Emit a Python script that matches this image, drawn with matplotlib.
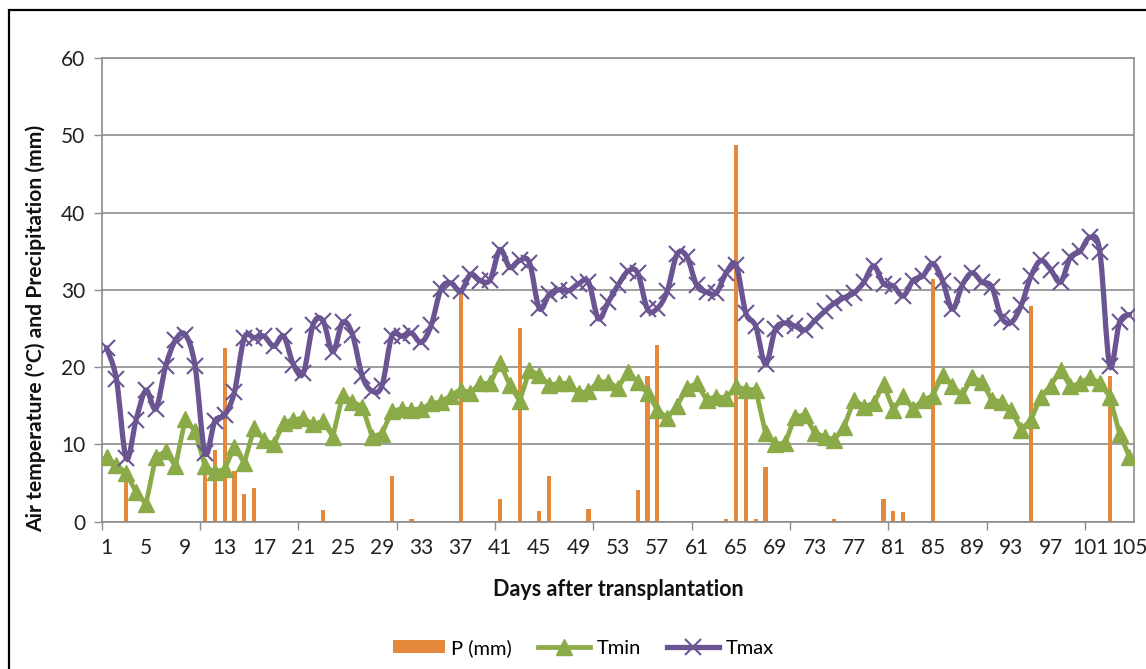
import numpy as np
import matplotlib
matplotlib.use('Agg')
import matplotlib.pyplot as plt
from matplotlib.path import Path
from matplotlib.patches import PathPatch, Patch, Rectangle
from matplotlib.lines import Line2D

# daily weather after transplanting (day 1..105)
days = np.arange(1, 106)

tmax = [22.5, 18.4, 8.2, 13.2, 17.0, 14.6, 20.1, 23.5, 24.2, 20.1,
        8.9, 13.0, 13.8, 16.8, 23.8, 23.8, 24.0, 22.7, 24.0, 20.3,
        19.2, 25.5, 26.0, 22.0, 25.8, 24.2, 18.8, 16.9, 17.6, 24.0,
        24.0, 24.4, 23.2, 25.4, 30.1, 30.9, 29.8, 32.0, 31.2, 31.3,
        35.2, 32.9, 33.8, 33.5, 27.6, 29.4, 30.0, 29.9, 30.8, 31.0,
        26.3, 28.4, 30.6, 32.4, 32.2, 27.5, 27.6, 29.8, 34.6, 34.3,
        30.6, 29.7, 29.6, 32.2, 33.2, 27.0, 25.3, 20.4, 24.9, 25.7,
        25.3, 24.8, 26.0, 27.2, 28.3, 29.0, 29.6, 31.0, 33.1, 30.8,
        30.5, 29.2, 31.2, 31.8, 33.4, 31.2, 27.5, 30.6, 32.2, 31.0,
        30.4, 26.4, 25.8, 28.0, 31.8, 33.8, 32.6, 31.0, 34.2, 35.0,
        36.8, 34.9, 20.2, 25.8, 26.8]

tmin = [8.4, 7.3, 6.3, 3.8, 2.3, 8.4, 9.1, 7.2, 13.3, 11.7,
        7.2, 6.4, 6.8, 9.7, 7.6, 12.1, 10.6, 10.0, 12.8, 13.2,
        13.4, 12.6, 13.0, 11.0, 16.4, 15.5, 14.9, 11.0, 11.4, 14.3,
        14.6, 14.5, 14.6, 15.3, 15.5, 16.3, 17.1, 16.7, 17.9, 17.9,
        20.5, 17.7, 15.6, 19.6, 19.0, 17.7, 17.9, 17.9, 16.6, 16.9,
        18.1, 18.1, 17.3, 19.4, 18.1, 16.6, 14.5, 13.4, 15.0, 17.3,
        17.9, 15.8, 16.2, 16.0, 17.5, 17.1, 17.1, 11.5, 10.0, 10.2,
        13.6, 13.8, 11.5, 11.0, 10.6, 12.3, 15.8, 14.9, 15.3, 17.8,
        14.5, 16.3, 14.6, 15.7, 16.3, 19.0, 17.5, 16.4, 18.7, 18.1,
        15.8, 15.5, 14.4, 11.9, 13.2, 16.2, 17.6, 19.6, 17.5, 17.9,
        18.7, 17.9, 16.2, 11.4, 8.4]

precip = [0, 0.1, 6.5, 0, 0, 0, 0, 0, 0, 0,
          7.0, 9.3, 22.5, 6.5, 3.6, 4.3, 0, 0, 0, 0,
          0, 0, 1.5, 0, 0, 0, 0, 0, 0, 5.9,
          0, 0.4, 0, 0, 0, 0, 29.6, 0, 0, 0,
          3.0, 0.1, 25.1, 0, 1.4, 5.9, 0, 0, 0, 1.7,
          0, 0, 0, 0, 4.1, 18.9, 22.9, 0, 0, 0,
          0, 0, 0, 0.3, 48.7, 16.3, 0.3, 7.1, 0.1, 0,
          0, 0, 0, 0, 0.3, 0.1, 0, 0, 0, 2.9,
          1.4, 1.3, 0, 0, 31.4, 0, 0, 0, 0, 0,
          0, 0, 0, 0, 27.9, 0, 0, 0, 0, 0,
          0, 0, 18.9, 0, 0]

orange = '#E4893C'
green = '#8BAA48'
purple = '#6A5592'
grey = '#8C8C8C'

plt.rcParams['font.family'] = ['Lato', 'DejaVu Sans']


def smooth_path(x, y):
    # cubic bezier through the points, like Excel's "smoothed line"
    pts = np.column_stack([x, y]).astype(float)
    n = len(pts)
    verts = [pts[0]]
    codes = [Path.MOVETO]
    for i in range(n - 1):
        p0 = pts[i - 1] if i > 0 else pts[i]
        p1 = pts[i]
        p2 = pts[i + 1]
        p3 = pts[i + 2] if i + 2 < n else pts[i + 1]
        verts += [p1 + (p2 - p0) / 6, p2 - (p3 - p1) / 6, p2]
        codes += [Path.CURVE4] * 3
    return Path(verts, codes)


fig = plt.figure(figsize=(11.46, 6.69), dpi=100)
ax = fig.add_axes([101.7 / 1146, 1 - 521.7 / 669, (1134.3 - 101.7) / 1146, (521.7 - 58) / 669])

ax.bar(days, precip, width=0.42, color=orange, zorder=2)
ax.plot(days, tmin, color=green, lw=3.4, marker='^', ms=12, zorder=3)
ax.add_patch(PathPatch(smooth_path(days, tmax), facecolor='none',
                       edgecolor=purple, lw=3.8, zorder=4, capstyle='round'))
ax.plot(days, tmax, ls='none', marker='x', ms=11.5, mew=1.5, color=purple, zorder=5)

ax.set_xlim(0.5, 105.5)
ax.set_ylim(0, 60)
ax.set_yticks(range(0, 61, 10))
ax.yaxis.grid(True, color=grey, lw=1.2, zorder=0)
ax.set_axisbelow(True)

# tick marks every 10 days, labels every 4 days
ax.set_xticks(np.arange(0.5, 105, 10))
ax.set_xticklabels([])
ax.set_xticks(days[::4], minor=True)
ax.set_xticklabels([str(d) for d in days[::4]], minor=True)
ax.tick_params(axis='x', which='major', length=6, width=1, color=grey)
ax.tick_params(axis='x', which='minor', length=0, pad=12, labelsize=15, labelcolor='#222222')
ax.tick_params(axis='y', length=6, width=1, color=grey, pad=6, labelsize=15, labelcolor='#222222')

for s in ax.spines.values():
    s.set_color(grey)
    s.set_linewidth(1.2)

fig.text(618 / 1146, 1 - 590 / 669, 'Days after transplantation', ha='center', va='center',
         fontsize=15.5, fontweight='bold', color='#111111')
fig.text(36 / 1146, 1 - 328 / 669, 'Air temperature (ºC) and Precipitation (mm)', ha='center',
         va='center', rotation=90, fontsize=15.2, fontweight='bold', color='#111111')

handles = [Patch(facecolor=orange, edgecolor='none'),
           Line2D([], [], color=green, lw=3.4, marker='^', ms=12),
           Line2D([], [], color=purple, lw=3.8, marker='x', ms=11.5, mew=1.5)]
fig.legend(handles, ['P (mm)', 'Tmin', 'Tmax'], loc='center', bbox_to_anchor=(583 / 1146, 1 - 648 / 669),
           ncol=3, frameon=False, fontsize=14.5, handlelength=2.6, handleheight=0.6,
           columnspacing=1.3, handletextpad=0.3)

# outer frame of the figure
fig.patches.append(Rectangle((9 / 1146, -0.05), 1.2, 1.05 - 10 / 669, transform=fig.transFigure,
                             fill=False, edgecolor='black', lw=1.6))

fig.savefig('out.png', dpi=100)
